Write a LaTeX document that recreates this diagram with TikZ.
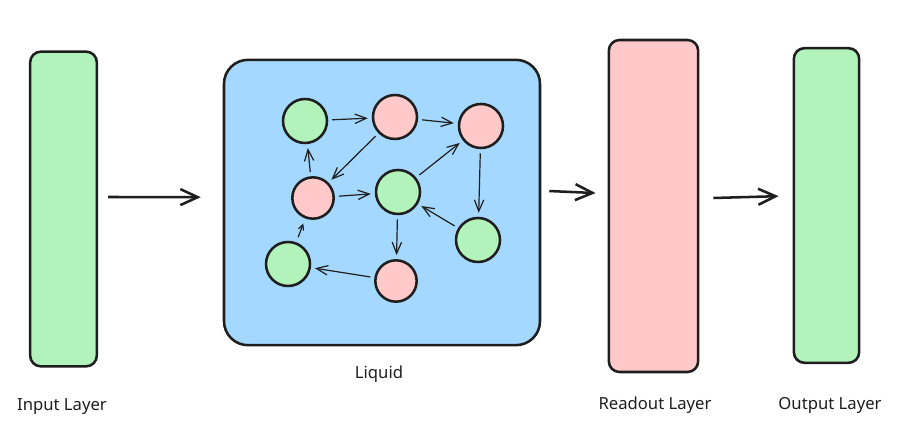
\documentclass[tikz,border=0pt]{standalone}
\usepackage{fontspec}
\setmainfont{Noto Sans}
\usetikzlibrary{arrows.meta,positioning}
\definecolor{ink}{HTML}{1E1E1E}
\definecolor{leafgreen}{HTML}{B2F2BB}
\definecolor{rosepink}{HTML}{FFC9C9}
\definecolor{skyblue}{HTML}{A5D8FF}
\tikzset{
layer/.style={draw=ink, line width=1.9pt, rounded corners=8pt},
neuron/.style={circle, draw=ink, line width=1.9pt, minimum size=33pt, inner sep=0pt},
excite/.style={neuron, fill=leafgreen},
inhibit/.style={neuron, fill=rosepink},
link/.style={-{Straight Barb[length=8.5pt,width=7pt]}, draw=ink, line width=0.9pt, shorten >=3pt, shorten <=3pt},
flow/.style={-{Straight Barb[length=13pt,width=12pt]}, draw=ink, line width=1.9pt},
caption/.style={font=\fontsize{12.5}{15}\selectfont, text=ink},
}

\begin{document}
\begin{tikzpicture}[x=0.75pt,y=-0.75pt]
    \useasboundingbox (0,0) rectangle (901,438);
    % layers
    \node[layer, fill=leafgreen, minimum width=50pt, minimum height=236pt] (input) at (63.5,209) {};
    \node[layer, fill=skyblue, rounded corners=18pt, minimum width=237pt, minimum height=214pt] (liquid) at (382,202.5) {};
    \node[layer, fill=rosepink, minimum width=67pt, minimum height=249pt] (readout) at (653.5,206) {};
    \node[layer, fill=leafgreen, minimum width=49pt, minimum height=236pt] (output) at (826.5,205.5) {};
    % captions
    \node[caption] (l_in)  at (62,407)  {Input Layer};
    \node[caption] (l_liq) at (379,374) {Liquid};
    \node[caption] (l_ro)  at (655,405) {Readout Layer};
    \node[caption] (l_out) at (830,405) {Output Layer};
    % reservoir
    \node[excite]  (n_1) at (305,121) {};
    \node[inhibit] (n_2) at (395,117) {};
    \node[inhibit] (n_3) at (481,126) {};
    \node[inhibit, minimum size=31pt] (n_4) at (313,198) {};
    \node[excite]  (n_5) at (398,192) {};
    \node[excite]  (n_6) at (478,240) {};
    \node[excite]  (n_7) at (288,264) {};
    \node[inhibit, minimum size=31pt] (n_8) at (396,281) {};
    \path[link]
    (n_1) edge (n_2)
    (n_2) edge (n_3)
    (n_2) edge (n_4)
    (n_4) edge (n_1)
    (n_4) edge (n_5)
    (n_5) edge (n_3)
    (n_3) edge (n_6)
    (n_6) edge (n_5)
    (n_5) edge (n_8)
    (n_8) edge (n_7)
    (n_7) edge[-{Straight Barb[length=4pt,width=4pt]}, shorten >=4pt, shorten <=4pt] (n_4);
    % main flow
    \draw[flow] ([xshift=7.5pt,yshift=9pt]input.east) -- ([xshift=-16.5pt,yshift=4pt]liquid.west);
    \draw[flow] ([xshift=6pt,yshift=8.6pt]liquid.east) -- ([xshift=-9pt,yshift=9.7pt]readout.west);
    \draw[flow] ([xshift=10.5pt,yshift=6pt]readout.east) -- ([xshift=-10.5pt,yshift=7pt]output.west);
\end{tikzpicture}
\end{document}
